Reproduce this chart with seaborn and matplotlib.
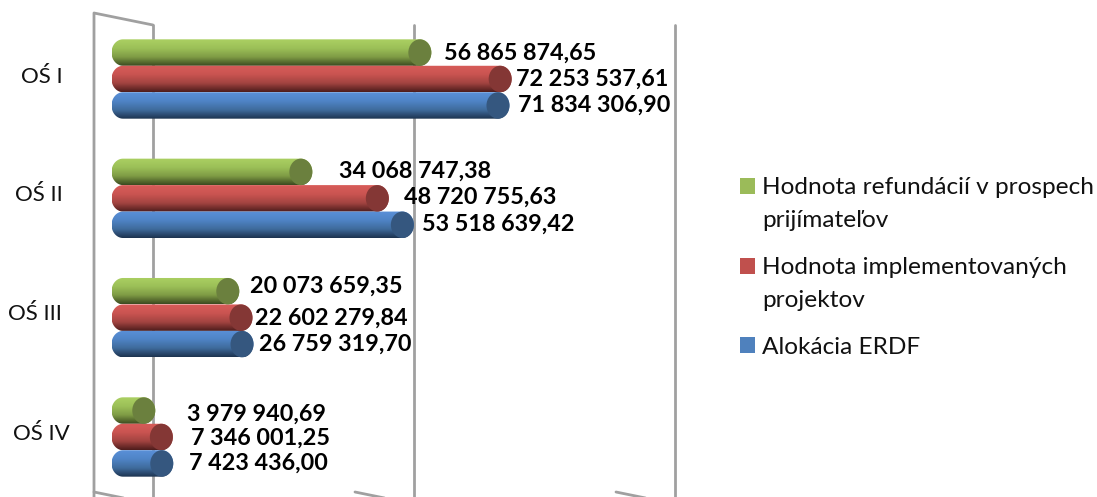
import numpy as np
import pandas as pd
import matplotlib
matplotlib.use('Agg')
import matplotlib.pyplot as plt
import seaborn as sns
from matplotlib.colors import LinearSegmentedColormap
from matplotlib.patches import Ellipse, Patch, Polygon

axes_names = ['OŚ I', 'OŚ II', 'OŚ III', 'OŚ IV']
refundacie = [56865874.65, 34068747.38, 20073659.35, 3979940.69]
implementovane = [72253537.61, 48720755.63, 22602279.84, 7346001.25]
# OŚ III blue is drawn shorter in the picture than its printed label says
alokacia = [71834306.90, 53518639.42, 22800000.00, 7423436.00]
series_names = ['Hodnota refundácií v prospech\nprijímateľov',
                'Hodnota implementovaných\nprojektov',
                'Alokácia ERDF']
refundacie_labels = ['56 865 874,65', '34 068 747,38', '20 073 659,35', '3 979 940,69']
implementovane_labels = ['72 253 537,61', '48 720 755,63', '22 602 279,84', '7 346 001,25']
alokacia_labels = ['71 834 306,90', '53 518 639,42', '26 759 319,70', '7 423 436,00']
wall_ticks = [0, 50e6, 100e6]

# label spots in pixels, picture was laid out by hand so they are not regular
cat_label_px = [(42, 77), (39, 195), (35, 314), (41, 434)]
value_label_px = [
    [(444, 53), (339, 171), (250, 286), (187, 414)],
    [(516, 79), (404, 197), (255, 318), (191, 438)],
    [(518, 105), (422, 224), (259, 344), (189, 463)],
]

W, H = 1097, 497
PX_PER_UNIT = 5.22e-6   # 261 px per 50 mil
X0_PX = 123             # where 0 sits on the front of the bars
DEPTH_PX = 30           # back wall is shifted right of the bars
CAP_PX = 11.5
ROW_PX = 119.33
ROW0_PX = 79

palette = ['#9bbb59', '#c0504d', '#4f81bd']
caps = ['#6b803e', '#843735', '#35577f']
ramps = [
    ['#abd062', '#9cc058', '#7f9c45', '#3c4b20'],
    ['#d85c59', '#ca5451', '#a34441', '#4e1d1c'],
    ['#5a90d8', '#4f84c6', '#3f6b9c', '#1d3350'],
]

df = pd.DataFrame({
    'os': axes_names * 3,
    'seria': np.repeat(series_names, 4),
    'hodnota': refundacie + implementovane + alokacia,
})

sns.set_theme(style='white')
plt.rcParams['font.family'] = ['Lato', 'DejaVu Sans']

fig = plt.figure(figsize=(W / 100, H / 100), dpi=100)
ax = fig.add_axes([0, 0, 1, 1])
sns.barplot(data=df, x='hodnota', y='os', hue='seria', hue_order=series_names,
            palette=palette, width=0.665, gap=0, dodge=True, legend=False,
            saturation=1, ax=ax)

xlim = (-X0_PX / PX_PER_UNIT, (W - X0_PX) / PX_PER_UNIT)
ylim = ((H - ROW0_PX) / ROW_PX, -ROW0_PX / ROW_PX)


def px(x, y):
    # pixel position to data position
    return (x - X0_PX) / PX_PER_UNIT, (y - ROW0_PX) / ROW_PX


# back wall and its floor/top edges
wall_color = '#a0a0a0'
for t in wall_ticks:
    xp = X0_PX + DEPTH_PX + t * PX_PER_UNIT
    ax.plot(*zip(px(xp, 25), px(xp, H + 5)), color=wall_color, lw=2, zorder=1)
    ax.plot(*zip(px(xp - 59, 492), px(xp, 504)), color=wall_color, lw=2, zorder=1)
ax.plot(*zip(px(94, H + 5), px(94, 13), px(153, 25)), color=wall_color, lw=2, zorder=1)

# cylinders on top of seaborn's bars
cap_w = CAP_PX / PX_PER_UNIT
for i, container in enumerate(ax.containers):
    cmap = LinearSegmentedColormap.from_list(f'c{i}', ramps[i])
    for bar in container:
        bar.set_zorder(2)
        x1 = bar.get_width()
        y0, h = bar.get_y(), bar.get_height()
        yc = y0 + h / 2
        t = np.linspace(np.pi / 2, 3 * np.pi / 2, 40)
        left = np.c_[cap_w * np.cos(t), yc + h / 2 * np.sin(t)]
        right = np.c_[x1 - cap_w * np.cos(t[::-1]), yc + h / 2 * np.sin(t[::-1])]
        outline = Polygon(np.r_[left, right], transform=ax.transData,
                          facecolor='none', edgecolor='none')
        ax.add_patch(outline)
        img = ax.imshow(np.linspace(0, 1, 64).reshape(-1, 1), cmap=cmap, aspect='auto',
                        extent=(-cap_w, x1 + cap_w, y0 + h, y0), zorder=3,
                        interpolation='bilinear')
        img.set_clip_path(outline)
        bar.set_visible(False)
        ax.add_patch(Ellipse((x1, yc), 2 * cap_w, h, facecolor=caps[i],
                             edgecolor='none', zorder=4))

ax.set_xlim(*xlim)
ax.set_ylim(*ylim)
ax.axis('off')

for name, (x, y) in zip(axes_names, cat_label_px):
    fig.text(x / W, 1 - y / H, name, ha='center', va='center', fontsize=16, color='#111111')

all_labels = [refundacie_labels, implementovane_labels, alokacia_labels]
for labels, spots in zip(all_labels, value_label_px):
    for lab, (x, y) in zip(labels, spots):
        fig.text(x / W, 1 - y / H, lab, ha='left', va='center', fontsize=16.8,
                 fontweight='bold', color='black')

handles = [Patch(facecolor=c, edgecolor='none') for c in palette]
leg = fig.legend(handles, series_names, loc='upper left', bbox_to_anchor=(740 / W, 1 - 177 / H),
                 frameon=False, fontsize=17.6, handlelength=0.61, handleheight=0.61,
                 handletextpad=0.29, labelspacing=1.05, borderaxespad=0, borderpad=0,
                 labelcolor='#111111')
for txt in leg.get_texts():
    txt.set_linespacing(1.72)
# put the squares next to the first line of two-line entries
for p, name in zip(leg.get_patches(), series_names):
    if '\n' in name:
        p.set_y(p.get_y() + 13)

fig.savefig('out.png', dpi=100, facecolor='white')
